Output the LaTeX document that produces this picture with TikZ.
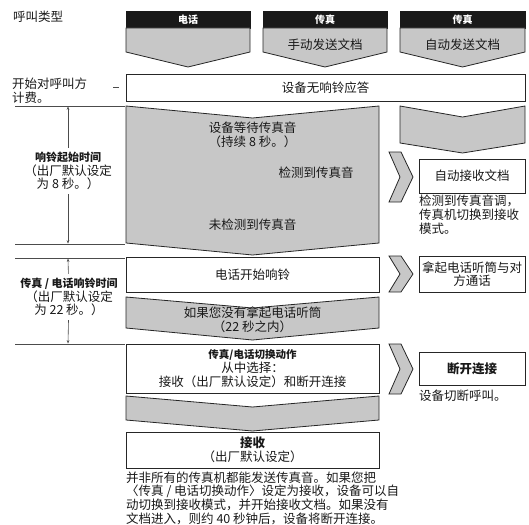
\documentclass[tikz,border=0pt]{standalone}
\usepackage{fontspec}
\setmainfont{Noto Sans CJK SC}
\usetikzlibrary{arrows.meta,positioning}

\begin{document}
\begin{tikzpicture}[x=1pt, y=-1pt,
    txt/.style={inner sep=0pt, align=center, text=black!90, font=\fontsize{12.5}{13.6}\selectfont},
    box/.style={txt, draw=black!85, line width=0.8pt, fill=white},
    hdr/.style={draw=black!90, fill=black!90, text=white, inner sep=0pt, minimum height=17pt,
                font=\bfseries\fontsize{10}{12}\selectfont},
    chev/.style={draw=black!85, line width=0.8pt, fill=black!22, line join=miter},
    rule/.style={draw=black!70, line width=0.8pt},
    dim/.style={draw=black!70, line width=0.6pt, -{Stealth[length=3.5pt, width=2.6pt]}},
    lbl/.style={txt, inner ysep=4pt}
]
\useasboundingbox (0,0) rectangle (529,524);

% call types
\node[txt, anchor=west] (kind) at (13,17) {呼叫类型};
\node[hdr, minimum width=124pt] (tel) at (188,19.5) {电话};
\node[hdr, minimum width=124pt] (faxm) at (325,19.5) {传真};
\node[hdr, minimum width=125pt] (faxa) at (462.5,19.5) {传真};
\draw[chev] (126,28) -- (250,28) -- (250,52) -- (188,67) -- (126,52) -- cycle;
\draw[chev] (263,28) -- (387,28) -- (387,52) -- (325,67) -- (263,52) -- cycle;
\draw[chev] (400,28) -- (525,28) -- (525,52) -- (462.5,67) -- (400,52) -- cycle;
\node[txt] (manual) at (325,45) {手动发送文档};
\node[txt] (auto) at (462.5,45) {自动发送文档};

% answer
\node[txt, anchor=west, align=left] (bill) at (12,90.5) {开始对呼叫方\\计费。};
\draw[rule] (113,87) -- (119,87);
\node[box, minimum width=399pt, minimum height=27pt] (noring) at (325.5,87.5) {设备无响铃应答};

% fax tone detection
\draw[chev] (126,106) -- (252.5,118) -- (379,106) -- (379,243) -- (252.5,255) -- (126,243) -- cycle;
\node[txt] (wait) at (252.5,135) {设备等待传真音\\（持续 8 秒。）};
\node[txt] (det) at (316,173) {检测到传真音};
\node[txt] (nodet) at (252.5,225) {未检测到传真音};
\draw[chev] (400,106) -- (462.5,117) -- (525,106) -- (525,143) -- (462.5,153) -- (400,143) -- cycle;
\draw[chev] (389,152) -- (401,152) -- (413,177) -- (401,202) -- (389,202) -- (400,177) -- cycle;
\node[box, minimum width=106pt, minimum height=34pt] (autorx) at (472,176) {自动接收文档};
\node[txt, anchor=north west, align=left] (autonote) at (419,195) {检测到传真音调，\\传真机切换到接收\\模式。};

% F/T ring
\node[box, minimum width=253pt, minimum height=35pt] (ring) at (252.5,274.5) {电话开始响铃};
\draw[chev] (389,256) -- (401,256) -- (413,274) -- (401,292) -- (389,292) -- (400,274) -- cycle;
\node[box, minimum width=106pt, minimum height=36pt] (pickup) at (472,274) {拿起电话听筒与对\\方通话};
\draw[chev] (126,297) -- (252.5,308) -- (379,297) -- (379,328) -- (252.5,340) -- (126,328) -- cycle;
\node[txt] (noanswer) at (252.5,320) {如果您没有拿起电话听筒\\（22 秒之内）};

% F/T action
\node[box, minimum width=253pt, minimum height=49pt] (action) at (252.5,368.5)
    {{\bfseries\fontsize{10.5}{13}\selectfont 传真/电话切换动作}\\从中选择：\\接收（出厂默认设定）和断开连接};
\draw[chev] (389,344) -- (401,344) -- (413,369) -- (401,394) -- (389,394) -- (400,369) -- cycle;
\node[box, minimum width=106pt, minimum height=33pt] (drop) at (472,368.5) {\bfseries 断开连接};
\node[txt, anchor=north west] (dropnote) at (419,390) {设备切断呼叫。};
\draw[chev] (126,396) -- (252.5,407) -- (379,396) -- (379,420) -- (252.5,431) -- (126,420) -- cycle;
\node[box, minimum width=253pt, minimum height=36pt] (receive) at (252.5,450)
    {{\bfseries 接收}\\（出厂默认设定）};
\node[txt, anchor=north west, align=left] (note) at (126,471.5)
    {并非所有的传真机都能发送传真音。如果您把\\
     〈传真 / 电话切换动作〉设定为接收，设备可以自\\
     动切换到接收模式，并开始接收文档。如果没有\\
     文档进入，则约 40 秒钟后，设备将断开连接。};

% ring times
\draw[rule] (15,106) -- (125,106);
\draw[rule] (15,244) -- (125,244);
\coordinate (r1top) at (68,106.4);
\coordinate (r1bot) at (68,243.6);
\node[lbl] (ring1) at (68,171)
    {{\bfseries\fontsize{11}{13}\selectfont 响铃起始时间}\\（出厂默认设定\\为 8 秒。）};
\draw[dim] (ring1) -- (r1top);
\draw[dim] (ring1) -- (r1bot);

\draw[rule] (15,258) -- (125,258);
\draw[rule] (15,344) -- (125,344);
\coordinate (r2top) at (68,258.4);
\coordinate (r2bot) at (68,343.6);
\node[lbl] (ring2) at (69,297)
    {{\bfseries\fontsize{11}{13}\selectfont 传真 / 电话响铃时间}\\（出厂默认设定\\为 22 秒。）};
\draw[dim] (ring2) -- (r2top);
\draw[dim] (ring2) -- (r2bot);
\end{tikzpicture}
\end{document}
